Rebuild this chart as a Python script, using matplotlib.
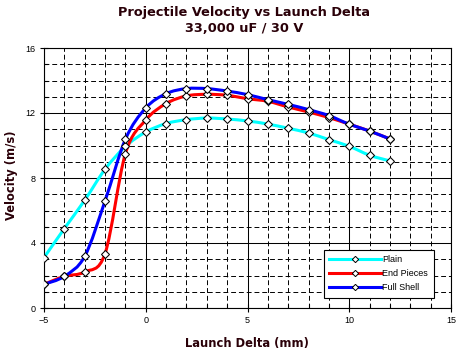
import matplotlib
matplotlib.use('Agg')
import matplotlib.pyplot as plt
from matplotlib.path import Path
from matplotlib.patches import PathPatch
from matplotlib.lines import Line2D
import numpy as np

# data
delta = [-5, -4, -3, -2, -1, 0, 1, 2, 3, 4, 5, 6, 7, 8, 9, 10, 11, 12]
plain = [3.10, 4.89, 6.63, 8.54, 9.94, 10.83, 11.35, 11.59, 11.69, 11.63,
         11.51, 11.32, 11.06, 10.77, 10.36, 9.95, 9.40, 9.05]
end_pieces = [1.46, 1.95, 2.22, 3.35, 9.50, 11.57, 12.58, 13.05, 13.15, 13.09,
              12.88, 12.72, 12.37, 12.06, 11.72, 11.31, 10.89, 10.40]
full_shell = [1.46, 1.95, 3.18, 6.59, 10.38, 12.31, 13.19, 13.50, 13.50, 13.35,
              13.13, 12.82, 12.53, 12.21, 11.84, 11.31, 10.89, 10.40]
series_names = ['Plain', 'End Pieces', 'Full Shell']
series_colors = ['#00FFFF', '#FF0000', '#0000FF']

W, H = 465, 356
fig = plt.figure(figsize=(W / 100, H / 100), dpi=100)
fig.patch.set_facecolor('white')
ax = fig.add_axes([44 / W, 1 - 308 / H, (451 - 44) / W, (308 - 48) / H])


def smooth_path(xs, ys):
    # Excel-style smoothed line: cubic bezier segments through the points
    pts = np.column_stack([xs, ys]).astype(float)
    verts = [pts[0]]
    codes = [Path.MOVETO]
    n = len(pts)
    for i in range(n - 1):
        p0 = pts[i - 1] if i > 0 else pts[i]
        p1 = pts[i]
        p2 = pts[i + 1]
        p3 = pts[i + 2] if i + 2 < n else pts[i + 1]
        c1 = p1 + (p2 - p0) / 6.0
        c2 = p2 - (p3 - p1) / 6.0
        verts += [c1, c2, p2]
        codes += [Path.CURVE4] * 3
    return Path(verts, codes)


handles = []
for name, ys, col in zip(series_names, [plain, end_pieces, full_shell], series_colors):
    patch = PathPatch(smooth_path(delta, ys), facecolor='none', edgecolor=col,
                      lw=2.2, capstyle='round', joinstyle='round', zorder=3)
    ax.add_patch(patch)
    ax.plot(delta, ys, ls='none', marker='D', ms=4, mfc='white', mec='black',
            mew=0.75, zorder=4)
    handles.append(Line2D([], [], color=col, lw=2.2, marker='D', ms=3.2,
                          mfc='white', mec='black', mew=0.7))

ax.set_xlim(-5, 15)
ax.set_ylim(0, 16)
ax.set_xticks(range(-5, 16, 5))
ax.set_xticks(range(-5, 16, 1), minor=True)
ax.set_yticks(range(0, 17, 4))
ax.set_yticks(range(0, 17, 1), minor=True)
ax.set_axisbelow(True)
ax.grid(which='major', color='black', lw=0.75, ls='-')
ax.grid(which='minor', color='black', lw=0.7, ls=(0, (5, 3)))
for sp in ax.spines.values():
    sp.set_color('black')
    sp.set_linewidth(0.8)

ax.tick_params(which='major', direction='inout', length=5.8, width=0.8,
               labelsize=6.5, pad=3, colors='black')
ax.tick_params(which='minor', direction='in', length=2.9, width=0.8)
for lab in ax.get_xticklabels() + ax.get_yticklabels():
    lab.set_fontfamily('Liberation Sans')

leg = ax.legend(handles, series_names, loc='lower right',
                bbox_to_anchor=((433.5 - 44) / 407, (308 - 297.5) / 260),
                prop={'family': 'Liberation Sans', 'size': 6.5},
                frameon=True, fancybox=False, edgecolor='black',
                framealpha=1, borderpad=0.6, handlelength=5.8,
                handletextpad=0.1, labelspacing=0.55, borderaxespad=0)
leg.get_frame().set_linewidth(0.8)

title_col = '#2a0008'
fig.text(244 / W, 1 - 12.5 / H, 'Projectile Velocity vs Launch Delta',
         ha='center', va='center', fontsize=9.3, fontweight='bold',
         color=title_col, family='DejaVu Sans')
fig.text(244.5 / W, 1 - 28 / H, '33,000 uF / 30 V', ha='center', va='center',
         fontsize=9.3, fontweight='bold', color=title_col, family='DejaVu Sans')
fig.text(246.5 / W, 1 - 344 / H, 'Launch Delta (mm)', ha='center', va='center',
         fontsize=8.3, fontweight='bold', color=title_col, family='DejaVu Sans')
fig.text(12 / W, 1 - 175 / H, 'Velocity (m/s)', ha='center', va='center',
         rotation=90, fontsize=8.3, fontweight='bold', color=title_col,
         family='DejaVu Sans')

fig.savefig('out.png', dpi=100, facecolor='white')
